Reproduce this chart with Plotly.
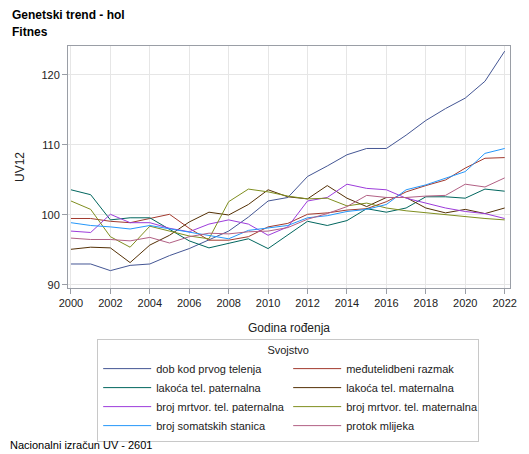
import plotly.graph_objects as go

# godine rođenja
years = list(range(2000, 2023))

# uzgojne vrijednosti po svojstvu (UV12)
dob_prvo_telenje = [93.0, 93.0, 92.05, 92.8, 93.0, 94.2, 95.2, 96.5, 97.7, 99.7, 102.0, 102.5,
                    105.5, 107.0, 108.6, 109.5, 109.5, 111.4, 113.5, 115.2, 116.7, 119.1, 123.4]
medutelidbeni = [99.5, 99.5, 99.1, 98.9, 99.5, 100.1, 98.1, 96.4, 96.4, 96.9, 98.3, 98.8,
                 100.1, 100.3, 100.7, 100.9, 101.9, 103.3, 104.2, 105.0, 106.7, 108.1, 108.2]
lakoca_pat = [103.6, 102.9, 99.3, 99.6, 99.6, 98.0, 96.3, 95.3, 95.9, 96.6, 95.2, 97.1,
              99.1, 98.5, 99.2, 100.9, 100.4, 101.0, 102.6, 102.6, 102.4, 103.7, 103.4]
lakoca_mat = [95.1, 95.4, 95.3, 93.2, 95.7, 97.1, 99.0, 100.4, 100.0, 101.5, 103.6, 102.6,
              102.3, 104.2, 102.4, 101.2, 102.5, 102.5, 101.0, 100.3, 100.8, 100.2, 101.0]
mrtvor_pat = [97.7, 97.5, 100.1, 98.9, 98.9, 98.1, 97.6, 98.7, 99.3, 98.7, 97.1, 98.3,
              102.0, 102.5, 104.4, 103.8, 103.6, 102.4, 101.7, 101.0, 100.5, 100.2, 99.5]
mrtvor_mat = [102.0, 100.8, 96.9, 95.4, 98.4, 97.7, 97.0, 96.6, 101.9, 103.7, 103.3, 102.7,
              102.3, 102.4, 101.3, 101.7, 101.0, 100.6, 100.3, 100.0, 99.8, 99.5, 99.3]
somatske = [98.9, 98.5, 98.3, 98.0, 98.5, 98.0, 97.5, 97.0, 96.6, 97.8, 98.1, 98.5,
            99.6, 99.9, 100.5, 100.8, 101.5, 103.6, 104.3, 105.3, 106.2, 108.8, 109.5]
protok = [96.7, 96.5, 96.5, 96.3, 96.8, 96.0, 96.9, 97.4, 97.3, 97.6, 97.7, 98.2,
          99.4, 100.2, 101.2, 102.8, 102.5, 102.5, 102.7, 102.8, 104.4, 104.0, 105.3]

names = ["dob kod prvog telenja", "međutelidbeni razmak",
         "lakoća tel. paternalna", "lakoća tel. maternalna",
         "broj mrtvor. tel. paternalna", "broj mrtvor. tel. maternalna",
         "broj somatskih stanica", "protok mlijeka"]
series = [dob_prvo_telenje, medutelidbeni, lakoca_pat, lakoca_mat,
          mrtvor_pat, mrtvor_mat, somatske, protok]
colors = ["#445694", "#A23A2E", "#01665E", "#543005",
          "#9D3CDB", "#7F8E1F", "#2597FA", "#B26084"]

font = "Liberation Sans, Arial, sans-serif"

fig = go.Figure()
for name, vals, col in zip(names, series, colors):
    fig.add_trace(go.Scatter(x=years, y=vals, name=name, mode="lines",
                             line=dict(color=col, width=1)))

# the page body has an 8px margin, so the figure is 8px smaller and shifted
fig.update_layout(
    width=521, height=446,
    margin=dict(l=60, r=19, t=38, b=166, autoexpand=False),
    paper_bgcolor="white", plot_bgcolor="white",
    font=dict(family=font, size=11, color="#222"),
    showlegend=True,
    legend=dict(
        orientation="h", x=0.066, xanchor="left", y=-0.21, yanchor="top",
        entrywidth=127, entrywidthmode="pixels", itemwidth=48,
        bordercolor="#c8c8c8", borderwidth=1,
        font=dict(family=font, size=11, color="#222"),
        title=dict(text="Svojstvo", side="top center",
                   font=dict(family=font, size=11, color="#222")),
    ),
)

fig.update_xaxes(
    range=[1999.85, 2022.27], tick0=2000, dtick=2, automargin=False,
    showgrid=True, gridcolor="#e6e6e6", gridwidth=1,
    showline=True, linecolor="#9a9ea6", mirror=True,
    ticks="outside", ticklen=5, tickcolor="#9a9ea6",
    zeroline=False,
    title=dict(text="Godina rođenja", font=dict(size=12), standoff=15),
)
fig.update_yaxes(
    range=[89.57, 124.14], tickvals=[90, 100, 110, 120], automargin=False,
    showgrid=True, gridcolor="#e6e6e6", gridwidth=1,
    showline=True, linecolor="#9a9ea6", mirror=True,
    ticks="outside", ticklen=5, tickcolor="#9a9ea6",
    zeroline=False,
    title=dict(text="UV12", font=dict(size=12), standoff=14),
)

fig.add_annotation(text="<b>Genetski trend - hol</b>", xref="paper", yref="paper",
                   x=-0.131, y=1.128, xanchor="left", yanchor="middle",
                   showarrow=False, font=dict(family=font, size=12, color="black"))
fig.add_annotation(text="<b>Fitnes</b>", xref="paper", yref="paper",
                   x=-0.131, y=1.058, xanchor="left", yanchor="middle",
                   showarrow=False, font=dict(family=font, size=12, color="black"))
fig.add_annotation(text="Nacionalni izračun UV - 2601", xref="paper", yref="paper",
                   x=-0.136, y=-0.648, xanchor="left", yanchor="middle",
                   showarrow=False, font=dict(family=font, size=11, color="black"))

fig.write_html("out.html")
